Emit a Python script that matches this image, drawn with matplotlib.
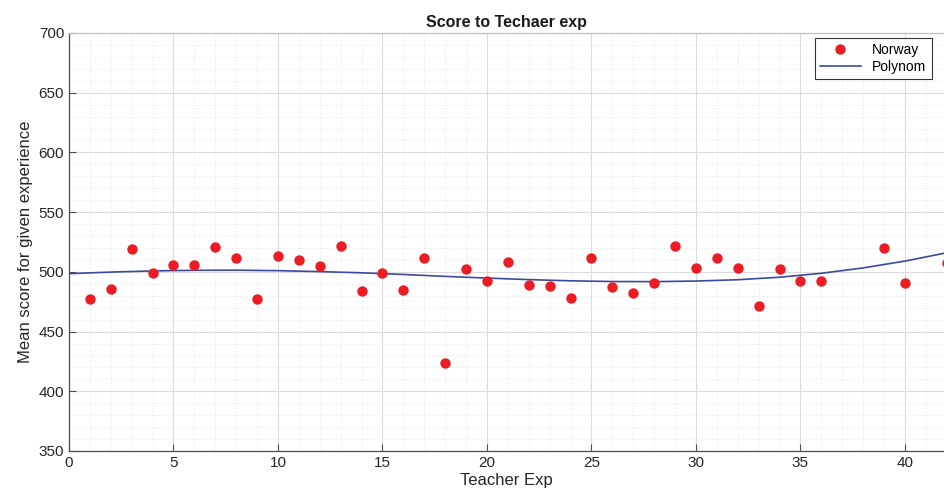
import numpy as np
import matplotlib
matplotlib.use("Agg")
import matplotlib.pyplot as plt
from matplotlib.ticker import MultipleLocator

plt.rcParams['font.family'] = ['Liberation Sans', 'DejaVu Sans']

experience = [1, 2, 3, 4, 5, 6, 7, 8, 9, 10, 11, 12, 13, 14, 15, 16, 17, 18, 19, 20,
              21, 22, 23, 24, 25, 26, 27, 28, 29, 30, 31, 32, 33, 34, 35, 36, 39, 40, 42]
scores = [477, 486, 519, 499, 506, 506, 521, 512, 477, 513, 510, 505, 522, 484, 499, 485,
          512, 424, 502, 492, 508, 489, 488, 478, 512, 487, 482, 491, 522, 503, 512, 503,
          471, 502, 492, 492, 520, 491, 507]

# fitted polynomial curve
poly_x = [0, 2, 4, 6, 8, 10, 12, 14, 16, 18, 20, 22, 24, 26, 28, 30, 32, 34, 36, 38, 40, 42]
poly_y = [498.5, 499.8, 500.8, 501.3, 501.4, 501.0, 500.2, 499.2, 497.8, 496.2, 494.8,
          493.5, 492.5, 491.9, 491.8, 492.3, 493.4, 495.5, 498.8, 503.3, 509.0, 516.0]

title = "Score to Techaer exp"
xlabel = "Teacher Exp"
ylabel = "Mean score for given experience"

fig = plt.figure(figsize=(9.44, 5.04), dpi=100)
ax = fig.add_axes([69/944, 1 - 451/504, (944 - 69)/944, (451 - 33)/504])

ax.plot(experience, scores, 'o', color='#ec1c24', markersize=7.5, markeredgewidth=0,
        label='Norway', zorder=3)
ax.plot(poly_x, poly_y, '-', color='#3b4a9c', linewidth=1.2, label='Polynom', zorder=2)

ax.set_xlim(0, 41.87)
ax.set_ylim(350, 700)
ax.xaxis.set_major_locator(MultipleLocator(5))
ax.xaxis.set_minor_locator(MultipleLocator(1))
ax.yaxis.set_major_locator(MultipleLocator(50))
ax.yaxis.set_minor_locator(MultipleLocator(10))

ax.grid(which='major', color='#dcdcdc', linewidth=0.8, linestyle='-')
ax.grid(which='minor', color='#e0e0e0', linewidth=0.6, linestyle=(0, (1, 2)))
ax.set_axisbelow(True)

for s in ['left', 'bottom']:
    ax.spines[s].set_color('#4d4d4d')
    ax.spines[s].set_linewidth(0.9)
ax.spines['top'].set_color('#c0c0c0')
ax.spines['top'].set_linewidth(0.9)
ax.spines['right'].set_visible(False)

ax.tick_params(which='major', direction='in', length=5, color='#4d4d4d', labelsize=11,
               labelcolor='#262626', top=False, right=False)
ax.tick_params(which='minor', length=0)

ax.set_title(title, fontsize=11.5, fontweight='bold', color='#1a1a1a', pad=4)
ax.set_xlabel(xlabel, fontsize=12, color='#262626', labelpad=2)
ax.set_ylabel(ylabel, fontsize=12, color='#262626', labelpad=4)

leg = ax.legend(loc='upper right', fontsize=10, frameon=True, fancybox=False,
                edgecolor='#333333', framealpha=1, borderpad=0.4, handlelength=2.9,
                labelspacing=0.2, bbox_to_anchor=(0.9905, 0.999), borderaxespad=0.3)
leg.get_frame().set_linewidth(0.8)

fig.savefig('out.png', dpi=100)
